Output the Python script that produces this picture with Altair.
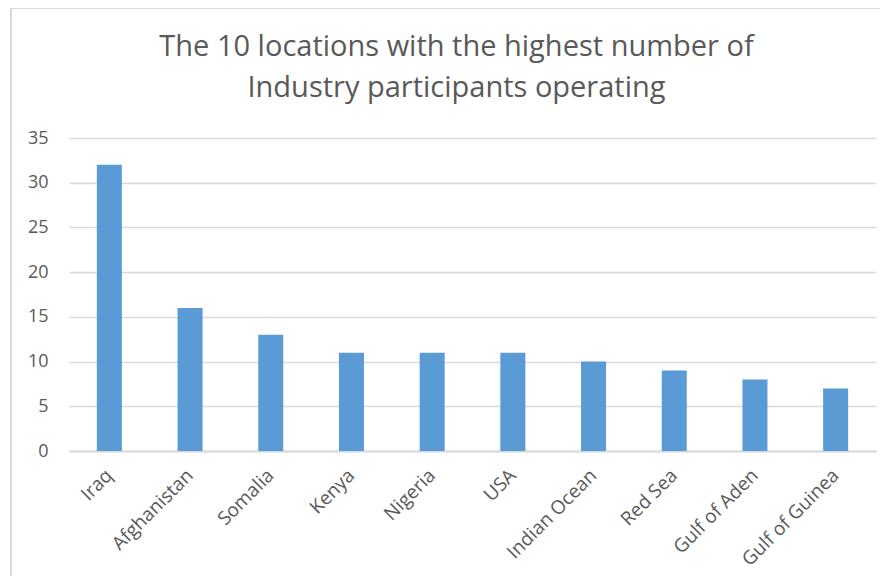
import altair as alt
import pandas as pd

locations = ["Iraq", "Afghanistan", "Somalia", "Kenya", "Nigeria", "USA",
             "Indian Ocean", "Red Sea", "Gulf of Aden", "Gulf of Guinea"]
participants = [32, 16, 13, 11, 11, 11, 10, 9, 8, 7]
title_lines = ["The 10 locations with the highest number of",
               "Industry participants operating"]

df = pd.DataFrame({"location": locations, "count": participants})

FONT = "Open Sans"
GREY = "#595959"
LINE = "#d9d9d9"

bars = alt.Chart(df).mark_bar(color="#5b9bd5").encode(
    x=alt.X("location:N", sort=locations,
            scale=alt.Scale(paddingInner=0.69, paddingOuter=0.345),
            axis=alt.Axis(title=None, labelAngle=-45, labelAlign="right",
                          labelBaseline="middle", labelPadding=21,
                          labelFont=FONT, labelFontSize=19, labelColor=GREY,
                          ticks=False, domainColor=LINE, domainWidth=2,
                          grid=False)),
    y=alt.Y("count:Q", scale=alt.Scale(domain=[0, 35]),
            axis=alt.Axis(title=None, values=[0, 5, 10, 15, 20, 25, 30, 35],
                          labelFont=FONT, labelFontSize=18, labelColor=GREY,
                          labelPadding=21, ticks=False, domain=False,
                          gridColor=LINE, gridWidth=1.5)),
)

border_v = alt.Chart(df).mark_rule(color=LINE, strokeWidth=2).encode(
    x=alt.value(-58), y=alt.value(-130), y2=alt.value(460))
border_h = alt.Chart(df).mark_rule(color=LINE, strokeWidth=2).encode(
    x=alt.value(-58), x2=alt.value(819), y=alt.value(-130))

chart = alt.layer(border_v, border_h, bars).properties(
    width=807, height=313,
    title=alt.TitleParams(text=title_lines, font=FONT, fontSize=29,
                          fontWeight="normal", color=GREY, anchor="middle",
                          offset=-96, lineHeight=41, dx=-16),
    autosize=alt.AutoSizeParams(type="none"),
    padding={"left": 61, "top": 130, "right": 4, "bottom": 125},
).configure_view(stroke=None)

chart.save("out.html", embed_options={"renderer": "svg", "actions": False})
